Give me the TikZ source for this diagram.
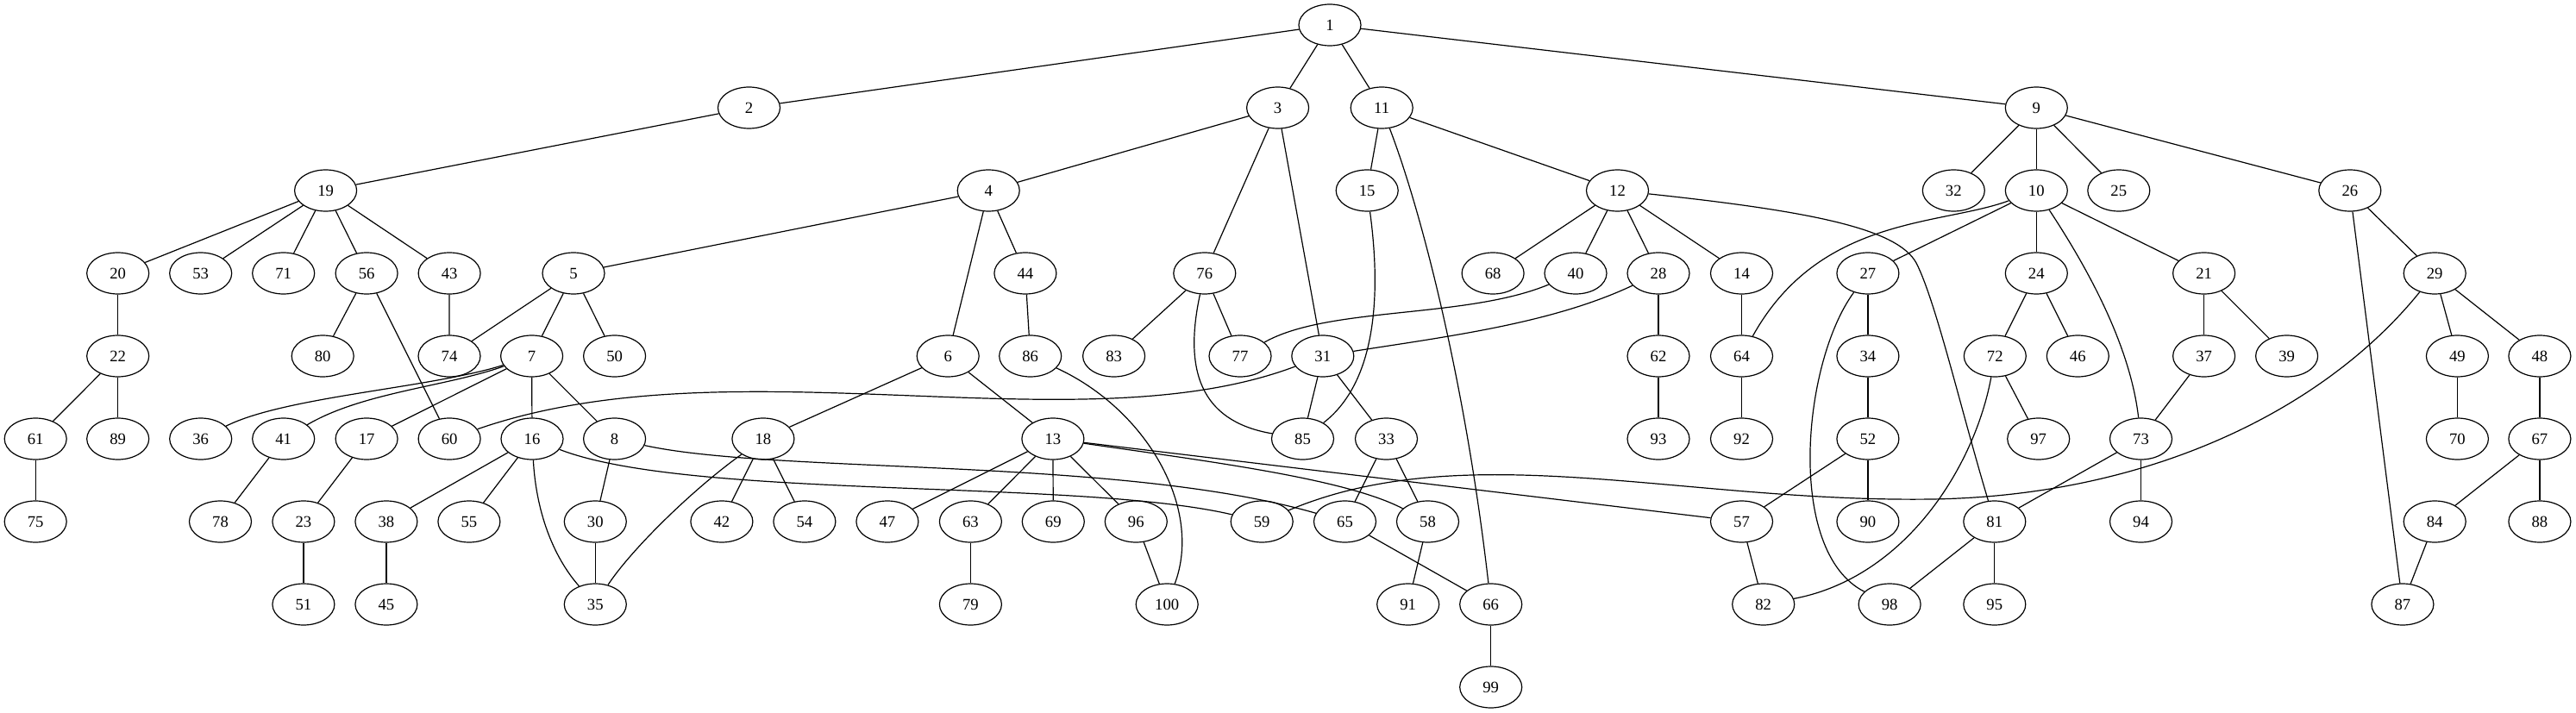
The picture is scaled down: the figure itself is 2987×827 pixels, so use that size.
\documentclass[tikz,border=0pt]{standalone}
\usepackage{fontspec}
\setmainfont{Liberation Serif}
\usetikzlibrary{shapes.geometric}
\begin{document}
\begin{tikzpicture}[x=0.75pt,y=-0.75pt,
  v/.style={ellipse,draw,line width=0.9pt,minimum width=54pt,minimum height=36pt,inner sep=0pt,font=\fontsize{14}{16}\selectfont},
  e/.style={line width=0.9pt}]
\useasboundingbox (0,0) rectangle (2987,827);
% row 0
\node[v] (n1) at (1542,29) {1};
% row 1
\foreach \n/\x in {2/868.5,3/1481.6,11/1602.2,9/2361.3}
  \node[v] (n\n) at (\x,125) {\n};
% row 2
\foreach \n/\x in {19/377.6,4/1146.2,15/1585.2,12/1875.5,32/2265.3,10/2361.3,25/2456.8,26/2724.8}
  \node[v] (n\n) at (\x,221) {\n};
% row 3
\foreach \n/\x in {20/136.7,53/232.7,71/328.7,56/425.1,43/521.1,5/665,44/1188.9,76/1396.8,68/1731.1,40/1827,28/1923,14/2019.5,27/2165.9,24/2361.3,21/2555.6,29/2823.2}
  \node[v] (n\n) at (\x,317) {\n};
% row 4
\foreach \n/\x in {22/136.7,80/374.2,74/521,7/616.6,50/712.6,6/1099.2,86/1194.7,83/1291.6,77/1438,31/1533.8,62/1923,64/2019.5,34/2165.9,72/2313.3,46/2409.3,37/2555.6,39/2651.6,49/2849.4,48/2944.9}
  \node[v] (n\n) at (\x,413) {\n};
% row 5
\foreach \n/\x in {61/41.2,89/136.7,36/232.7,41/328.7,17/425.1,60/521.1,16/617,8/712.6,18/884.9,13/1220.9,85/1510.5,33/1607.5,93/1923,92/2019.5,52/2165.9,97/2363.7,73/2482.5,70/2849.4,67/2944.9}
  \node[v] (n\n) at (\x,509) {\n};
% row 6
\foreach \n/\x in {75/41.2,78/255.5,23/351.9,38/447.9,55/543.9,30/690.3,42/836.9,54/932.9,47/1028.9,63/1125.4,69/1221.3,96/1317.3,59/1463.2,65/1559.5,58/1655.5,57/2019.5,90/2165.9,81/2312.8,94/2482.5,84/2823.2,88/2944.9}
  \node[v] (n\n) at (\x,605) {\n};
% row 7
\foreach \n/\x in {51/351.9,45/447.9,35/690.3,79/1125.4,100/1353.2,91/1632.7,66/1728.7,82/2044.7,98/2191.1,95/2312.8,87/2785.9}
  \node[v] (n\n) at (\x,701) {\n};
% row 8
\node[v] (n99) at (1728.7,797) {99};
% straight edges
\foreach \a/\b in {1/2,1/3,1/11,1/9,2/19,3/4,3/76,3/31,11/15,11/12,9/32,9/10,9/25,9/26,
  19/20,19/53,19/71,19/56,19/43,4/5,4/6,4/44,12/68,12/40,12/28,12/14,10/27,10/24,10/21,
  26/29,26/87,20/22,56/80,56/60,43/74,5/74,5/7,5/50,44/86,76/83,76/77,28/62,14/64,27/34,
  24/72,24/46,21/37,21/39,29/49,29/48,22/61,22/89,7/17,7/16,7/8,6/18,6/13,31/85,31/33,
  62/93,64/92,34/52,72/97,37/73,49/70,48/67,61/75,41/78,17/23,16/38,16/55,8/30,18/42,
  18/54,13/47,13/63,13/69,13/96,13/57,33/65,33/58,52/57,52/90,73/81,73/94,67/84,67/88,
  23/51,38/45,30/35,63/79,96/100,65/66,58/91,57/82,81/98,81/95,84/87,66/99}
  \draw[e] (n\a) -- (n\b);
% curved edges
\draw[e] (n11) .. controls (1650,250) and (1700,450) .. (n66);
\draw[e] (n15) .. controls (1600,330) and (1600,440) .. (n85);
\draw[e] (n76) .. controls (1370,440) and (1400,490) .. (n85);
\draw[e] (n40) .. controls (1700,370) and (1540,355) .. (n77);
\draw[e] (n28) .. controls (1800,375) and (1680,390) .. (n31);
\draw[e] (n31) .. controls (1250,520) and (850,395) .. (n60);
\draw[e] (n12) .. controls (2100,245) and (2200,265) .. (2222,305) .. controls (2245,350) and (2275,480) .. (n81);
\draw[e] (n10) .. controls (2250,262) and (2110,250) .. (n64);
\draw[e] (n10) .. controls (2420,310) and (2470,400) .. (n73);
\draw[e] (n27) .. controls (2090,420) and (2070,640) .. (n98);
\draw[e] (n72) .. controls (2290,540) and (2210,670) .. (n82);
\draw[e] (n29) .. controls (2700,470) and (2500,575) .. (2240,579) .. controls (1950,583) and (1700,505) .. (n59);
\draw[e] (n13) .. controls (1400,535) and (1560,555) .. (n58);
\draw[e] (n16) .. controls (800,580) and (1250,555) .. (n59);
\draw[e] (n8) .. controls (900,550) and (1300,530) .. (n65);
\draw[e] (n18) .. controls (800,570) and (730,640) .. (n35);
\draw[e] (n16) .. controls (622,600) and (645,650) .. (n35);
\draw[e] (n7) .. controls (500,450) and (330,460) .. (n36);
\draw[e] (n7) .. controls (520,448) and (420,455) .. (n41);
\draw[e] (n86) .. controls (1330,475) and (1395,590) .. (n100);
\end{tikzpicture}
\end{document}
